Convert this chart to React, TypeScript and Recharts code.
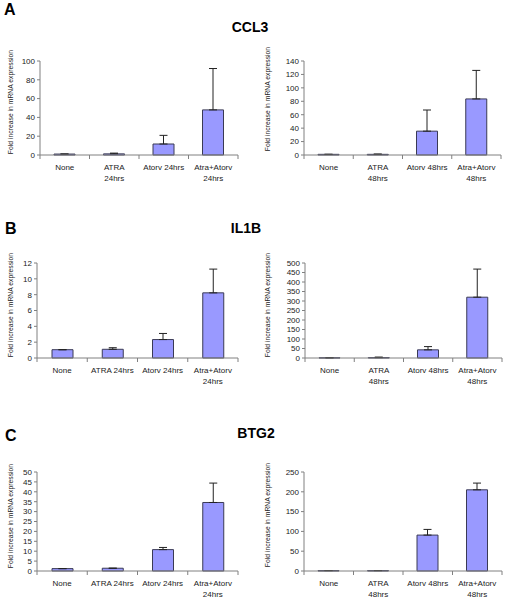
import React from 'react';
import { BarChart, Bar, XAxis, YAxis, ErrorBar } from 'recharts';

// Category labels (\n = line break under the axis)
const LABELS_24_WRAP = ['None', 'ATRA\n24hrs', 'Atorv 24hrs', 'Atra+Atorv\n24hrs'];
const LABELS_24 = ['None', 'ATRA 24hrs', 'Atorv 24hrs', 'Atra+Atorv\n24hrs'];
const LABELS_48 = ['None', 'ATRA\n48hrs', 'Atorv 48hrs', 'Atra+Atorv\n48hrs'];

// CCL3
const CCL3_24_MEAN = [1, 1.2, 11.7, 48];
const CCL3_24_ERR = [0, 0.8, 9.2, 44];
const CCL3_24_TICKS = [0, 20, 40, 60, 80, 100];
const CCL3_48_MEAN = [1, 1, 35.5, 83.5];
const CCL3_48_ERR = [0, 0.4, 31.5, 42.5];
const CCL3_48_TICKS = [0, 20, 40, 60, 80, 100, 120, 140];

// IL1B
const IL1B_24_MEAN = [1.05, 1.1, 2.33, 8.23];
const IL1B_24_ERR = [0, 0.2, 0.77, 3.0];
const IL1B_24_TICKS = [0, 2, 4, 6, 8, 10, 12];
const IL1B_48_MEAN = [1, 2, 43, 320];
const IL1B_48_ERR = [0, 3, 17, 148];
const IL1B_48_TICKS = [0, 50, 100, 150, 200, 250, 300, 350, 400, 450, 500];

// BTG2
const BTG2_24_MEAN = [1.2, 1.4, 10.8, 34.6];
const BTG2_24_ERR = [0, 0, 1.1, 9.8];
const BTG2_24_TICKS = [0, 5, 10, 15, 20, 25, 30, 35, 40, 45, 50];
const BTG2_48_MEAN = [1, 1, 90.7, 205];
const BTG2_48_ERR = [0, 0, 14.3, 17];
const BTG2_48_TICKS = [0, 50, 100, 150, 200, 250];

const FONT = '"Liberation Sans", Arial, sans-serif';
const AXIS = '#808080';
const Y_LABEL = 'Fold increase in mRNA expression';

function CatTick(props: any) {
  const { x, payload, band, axisY } = props;
  const lines = String(payload.value).split('\n');
  return (
    <g>
      {payload.index === 0 && (
        <line x1={x - band / 2} x2={x - band / 2} y1={axisY} y2={axisY + 4} stroke={AXIS} />
      )}
      <line x1={x + band / 2} x2={x + band / 2} y1={axisY} y2={axisY + 4} stroke={AXIS} />
      <text x={x} y={axisY + 15} textAnchor="middle" fontSize={8} fill="#222" fontFamily={FONT}>
        {lines.map((l, i) => (
          <tspan key={i} x={x} dy={i === 0 ? 0 : 11}>{l}</tspan>
        ))}
      </text>
    </g>
  );
}

interface PanelProps {
  left: number;
  right: number;
  top: number;
  bottom: number;
  labels: string[];
  mean: number[];
  err: number[];
  ticks: number[];
}

function Panel({ left, right, top, bottom, labels, mean, err, ticks }: PanelProps) {
  const ML = 40, MT = 10, MR = 6, XH = 32;
  const data = labels.map((name, i) => ({ name, mean: mean[i], err: [0, err[i]] }));
  const band = (right - left) / labels.length;
  const max = ticks[ticks.length - 1];
  return (
    <div style={{ position: 'absolute', left: left - ML, top: top - MT }}>
      <BarChart
        width={right - left + ML + MR}
        height={bottom - top + MT + XH}
        data={data}
        margin={{ top: MT, right: MR, left: 0, bottom: 0 }}
        barSize={21}
      >
        <XAxis
          dataKey="name"
          height={XH}
          interval={0}
          tickLine={false}
          stroke={AXIS}
          tick={<CatTick band={band} axisY={MT + bottom - top} />}
        />
        <YAxis
          type="number"
          width={ML}
          domain={[0, max]}
          ticks={ticks}
          interval={0}
          tickSize={3}
          tickMargin={2}
          stroke={AXIS}
          tick={{ fontSize: 8, fill: '#222', fontFamily: FONT }}
        />
        <Bar dataKey="mean" fill="#9999ff" stroke="#3a3a55" strokeWidth={1} isAnimationActive={false}>
          <ErrorBar dataKey="err" width={4} stroke="#222" strokeWidth={1} direction="y" />
        </Bar>
      </BarChart>
    </div>
  );
}

function YLabel({ x, y }: { x: number; y: number }) {
  return (
    <text
      x={x}
      y={y}
      transform={`rotate(-90 ${x} ${y})`}
      textAnchor="middle"
      dominantBaseline="central"
      fontSize={6.8}
      fill="#222"
      fontFamily={FONT}
    >
      {Y_LABEL}
    </text>
  );
}

export default function App() {
  return (
    <div style={{ position: 'absolute', left: 0, top: 0, width: 505, height: 600, background: '#fff', fontFamily: FONT }}>
      <Panel left={40} right={238} top={61} bottom={155} labels={LABELS_24_WRAP} mean={CCL3_24_MEAN} err={CCL3_24_ERR} ticks={CCL3_24_TICKS} />
      <Panel left={304} right={501} top={61} bottom={155} labels={LABELS_48} mean={CCL3_48_MEAN} err={CCL3_48_ERR} ticks={CCL3_48_TICKS} />
      <Panel left={37} right={238} top={263} bottom={358} labels={LABELS_24} mean={IL1B_24_MEAN} err={IL1B_24_ERR} ticks={IL1B_24_TICKS} />
      <Panel left={305} right={502} top={263} bottom={358} labels={LABELS_48} mean={IL1B_48_MEAN} err={IL1B_48_ERR} ticks={IL1B_48_TICKS} />
      <Panel left={37} right={238} top={472} bottom={571} labels={LABELS_24} mean={BTG2_24_MEAN} err={BTG2_24_ERR} ticks={BTG2_24_TICKS} />
      <Panel left={304} right={502} top={472} bottom={571} labels={LABELS_48} mean={BTG2_48_MEAN} err={BTG2_48_ERR} ticks={BTG2_48_TICKS} />
      <svg width={505} height={600} style={{ position: 'absolute', left: 0, top: 0, pointerEvents: 'none' }}>
        <g fontFamily={FONT} fontWeight="bold" fill="#000">
          <text x={4} y={15} fontSize={16}>A</text>
          <text x={250} y={32} fontSize={14} textAnchor="middle">CCL3</text>
          <text x={5} y={234} fontSize={16}>B</text>
          <text x={246} y={233} fontSize={14} textAnchor="middle">IL1B</text>
          <text x={5} y={441} fontSize={16}>C</text>
          <text x={256} y={438} fontSize={14} textAnchor="middle">BTG2</text>
        </g>
        <YLabel x={10} y={102} />
        <YLabel x={267} y={99} />
        <YLabel x={10} y={305} />
        <YLabel x={267} y={305} />
        <YLabel x={10} y={516} />
        <YLabel x={267} y={515} />
      </svg>
    </div>
  );
}
